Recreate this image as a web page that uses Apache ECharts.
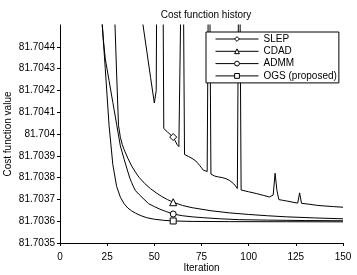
<!DOCTYPE html>
<html><head><meta charset="utf-8">
<script src="https://cdn.jsdelivr.net/npm/echarts@6/dist/echarts.min.js"></script>
<style>html,body{margin:0;padding:0;background:#fff}#c{width:357px;height:275px}</style>
</head><body><div id="c"></div>
<script>
const titleText = 'Cost function history';
const xName = 'Iteration';
const yName = 'Cost function value';
const seriesNames = ['SLEP', 'CDAD', 'ADMM', 'OGS (proposed)'];
const markerIter = 60;
const xTicks = [0, 25, 50, 75, 100, 125, 150];
const yTicks = [81.7035, 81.7036, 81.7037, 81.7038, 81.7039, 81.704, 81.7041, 81.7042, 81.7043, 81.7044];

const slepIter = [40,42,44,46,48,50,51,52,53,54,55,56,57,58,59,60,61,62,63,64,65,66,67,68,69,70,71,72,73,74,75,76,77,78,79,80,81,82,84,86,88,90,92,93,94,95,96,98,100,104,108,111,112,113,114,115,116,118,120,124,126,127,128,132,136,140,145,150];
const slepVal = [81.70474,81.70462,81.7045,81.70438,81.70426,81.704142,81.7042,81.706,81.7063,81.7057,81.704025,81.704017,81.704009,81.7040,81.703993,81.703986,81.70397,81.703952,81.703942,81.703935,81.7052,81.703906,81.7039,81.703897,81.703893,81.703888,81.703884,81.703876,81.703866,81.703856,81.703845,81.703834,81.70383,81.703828,81.7052,81.703816,81.70381,81.703807,81.703803,81.7038,81.703795,81.703786,81.703772,81.703762,81.70375,81.7052,81.703743,81.703739,81.703735,81.703727,81.703718,81.703711,81.703706,81.70372,81.70382,81.70374,81.703699,81.703696,81.703693,81.703686,81.703683,81.70373,81.703682,81.703678,81.703673,81.70367,81.703667,81.703664];

const cdadIter = [27,29,30,31,32,33,34,36,38,40,42,45,48,51,54,57,60,65,70,80,90,100,110,120,135,150];
const cdadVal = [81.7050,81.70454,81.70428,81.70404,81.703985,81.703952,81.703928,81.703888,81.703853,81.703825,81.7038,81.703772,81.703749,81.70373,81.703713,81.703699,81.703687,81.703672,81.703662,81.703648,81.703638,81.703631,81.703625,81.70362,81.703615,81.703611];

const admmIter = [18,20,22,23,24,26,28,30,32,34,36,37,38,39,40,42,44,47,50,53,56,60,65,70,76,85,95,110,130,150];
const admmVal = [81.70505,81.70478,81.70455,81.70443,81.704345,81.704245,81.704145,81.704045,81.703945,81.703884,81.703826,81.703798,81.703777,81.703757,81.70374,81.703722,81.703705,81.70368,81.703667,81.703655,81.703645,81.703633,81.703625,81.70362,81.703616,81.703611,81.703607,81.703605,81.703603,81.703602];

const ogsIter = [18,20,22,23,24,26,28,30,32,34,36,38,40,43,46,50,55,60,70,90,120,150];
const ogsVal = [81.70505,81.70478,81.70455,81.704425,81.7043,81.70404,81.70386,81.70376,81.70371,81.70368,81.70366,81.703647,81.703637,81.703625,81.703616,81.703609,81.703604,81.703601,81.703599,81.703598,81.7035975,81.703597];

const FONT = '"Liberation Sans", Arial, Helvetica, sans-serif';
function toData(iters, vals) {
  return iters.map((x, i) => x === markerIter ? { value: [x, vals[i]] } : { value: [x, vals[i]], symbol: 'none' });
}
function mkSeries(name, iters, vals, symbol, size) {
  return {
    name, type: 'line', data: toData(iters, vals),
    symbol, symbolSize: size, showSymbol: true, showAllSymbol: true,
    clip: true, silent: true, animation: false,
    lineStyle: { color: '#000', width: 1 },
    itemStyle: { color: '#fff', borderColor: '#000', borderWidth: 1 }
  };
}
const chart = echarts.init(document.getElementById('c'), null, { renderer: 'canvas' });
chart.setOption({
  animation: false,
  backgroundColor: '#fff',
  title: { text: titleText, left: 201, top: 5, textAlign: 'center',
    textStyle: { fontFamily: FONT, fontSize: 10, fontWeight: 'normal', color: '#000' } },
  grid: { left: 60, right: 14, top: 25, bottom: 32, containLabel: false, outerBoundsMode: 'none' },
  legend: {
    orient: 'vertical', left: 206, top: 32,
    data: seriesNames,
    backgroundColor: '#fff', borderColor: '#000', borderWidth: 1, borderRadius: 0,
    padding: [1, 2, 1, 9], itemWidth: 43, itemHeight: 6, itemGap: 0.3,
    lineStyle: { color: '#000', width: 1 },
    itemStyle: { color: '#fff', borderColor: '#000', borderWidth: 1 },
    textStyle: { fontFamily: FONT, fontSize: 10, color: '#000', lineHeight: 12 }
  },
  xAxis: {
    type: 'value', min: xTicks[0], max: xTicks[xTicks.length - 1], interval: 25,
    name: xName, nameLocation: 'middle', nameGap: 20, nameMoveOverlap: false,
    nameTextStyle: { fontFamily: FONT, fontSize: 10, color: '#000' },
    axisLine: { lineStyle: { color: '#000', width: 1 } },
    axisTick: { show: true, inside: false, length: 3, lineStyle: { color: '#000' } },
    axisLabel: { fontFamily: FONT, fontSize: 10, color: '#000', margin: 9 },
    splitLine: { show: false }
  },
  yAxis: {
    type: 'value', min: 81.7035, max: 81.7045, interval: 0.0001,
    name: yName, nameLocation: 'middle', nameGap: 47, nameMoveOverlap: false,
    nameTextStyle: { fontFamily: FONT, fontSize: 10, color: '#000' },
    axisLine: { show: true, lineStyle: { color: '#000', width: 1 } },
    axisTick: { show: true, inside: false, length: 3, lineStyle: { color: '#000' } },
    axisLabel: { fontFamily: FONT, fontSize: 10, color: '#000', margin: 5, showMaxLabel: false,
      formatter: v => String(+(+v).toFixed(4)) },
    splitLine: { show: false }
  },
  series: [
    mkSeries(seriesNames[0], slepIter, slepVal, 'diamond', 7),
    mkSeries(seriesNames[1], cdadIter, cdadVal, 'triangle', 7),
    mkSeries(seriesNames[2], admmIter, admmVal, 'circle', 6),
    mkSeries(seriesNames[3], ogsIter, ogsVal, 'rect', 6)
  ]
});
</script></body></html>
